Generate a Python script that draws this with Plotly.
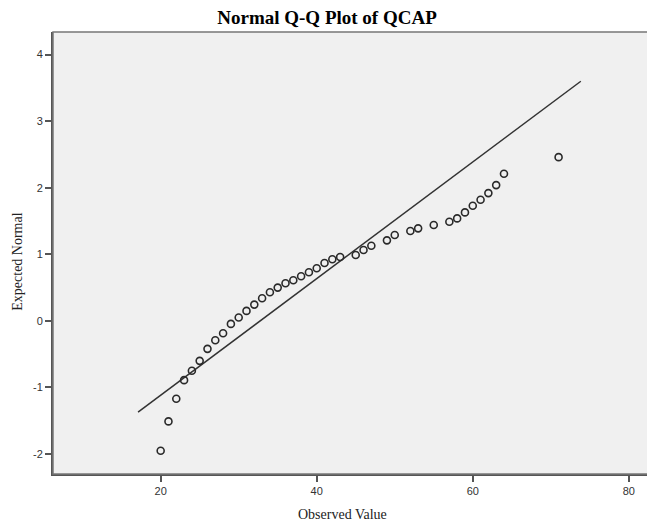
import plotly.graph_objects as go

# Observed values and their expected normal quantiles
observed = [20, 21, 22, 23, 24, 25, 26, 27, 28, 29, 30, 31, 32, 33, 34, 35, 36, 37, 38, 39, 40,
            41, 42, 43, 45, 46, 47, 49, 50, 52, 53, 55, 57, 58, 59, 60, 61, 62, 63, 64, 71]
expected = [-1.95, -1.51, -1.17, -0.89, -0.75, -0.60, -0.42, -0.29, -0.185, -0.045, 0.05, 0.15,
            0.245, 0.34, 0.43, 0.50, 0.565, 0.61, 0.67, 0.73, 0.79, 0.87, 0.925, 0.96, 0.99,
            1.065, 1.13, 1.21, 1.29, 1.35, 1.39, 1.44, 1.49, 1.54, 1.63, 1.73, 1.82, 1.92,
            2.04, 2.21, 2.46]

# Reference line endpoints
line_x = [17.1, 73.85]
line_y = [-1.37, 3.60]

x_ticks = [20, 40, 60, 80]
y_ticks = [-2, -1, 0, 1, 2, 3, 4]

# page body has an 8px margin, so the figure is drawn 8px right/down
W, H = 647, 520
ML, MR, MT, MB = 45, 2, 24, 53.5
PW, PH = W - ML - MR, H - MT - MB

fig = go.Figure()
fig.add_trace(go.Scatter(x=line_x, y=line_y, mode="lines",
                         line=dict(color="#333333", width=1.5), hoverinfo="skip"))
fig.add_trace(go.Scatter(x=observed, y=expected, mode="markers",
                         marker=dict(symbol="circle-open", size=7,
                                     color="#2a2a2a", line=dict(width=1.6, color="#2a2a2a"))))

fig.update_layout(
    width=W, height=H,
    margin=dict(l=ML, r=MR, t=MT, b=MB),
    paper_bgcolor="white", plot_bgcolor="#f0f0f0",
    showlegend=False,
    title=dict(text="<b>Normal Q-Q Plot of QCAP</b>", x=(327 - 8) / W, xanchor="center",
               y=1 - 9 / H, yanchor="middle",
               font=dict(family="Liberation Serif", size=19, color="black")),
    font=dict(family="Liberation Sans", size=11, color="#333333"),
)
fig.update_xaxes(range=[6.2, 83.1], tickvals=x_ticks, ticktext=[str(v) for v in x_ticks],
                 showgrid=False, zeroline=False, showline=True, linecolor="#555555", linewidth=2,
                 ticks="outside", ticklen=6, tickwidth=2, tickcolor="#555555",
                 tickfont=dict(family="Liberation Sans", size=11, color="#333333"))
fig.update_yaxes(range=[-2.30, 4.34], tickvals=y_ticks, ticktext=[str(v) for v in y_ticks],
                 showgrid=False, zeroline=False, showline=True, linecolor="#555555", linewidth=2,
                 ticks="outside", ticklen=6, tickwidth=2, tickcolor="#555555",
                 tickfont=dict(family="Liberation Sans", size=11, color="#333333"))

# plot frame (top/right)
fig.add_shape(type="rect", xref="paper", yref="paper", x0=0, x1=1, y0=0, y1=1,
              line=dict(color="#777777", width=1.5), layer="above")

fig.add_annotation(text="Observed Value", xref="paper", yref="paper",
                   x=(342 - 53) / PW, y=-(515 - 474.5) / PH, xanchor="center", yanchor="middle",
                   showarrow=False, font=dict(family="Liberation Serif", size=14, color="#222222"))
fig.add_annotation(text="Expected Normal", xref="paper", yref="paper",
                   x=-(53 - 18) / PW, y=(474.5 - 262) / PH, xanchor="center", yanchor="middle",
                   textangle=-90, showarrow=False,
                   font=dict(family="Liberation Serif", size=14, color="#222222"))

fig.write_html("out.html")
